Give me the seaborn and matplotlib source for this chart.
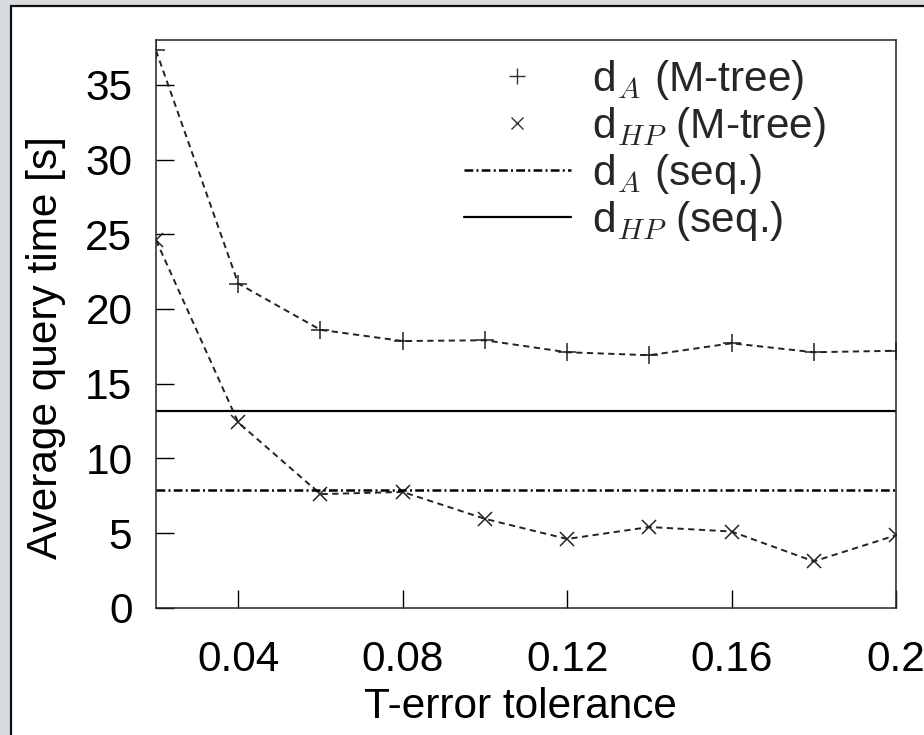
import numpy as np
import pandas as pd
import matplotlib
matplotlib.use("Agg")
import matplotlib.pyplot as plt
from matplotlib.lines import Line2D
from matplotlib.patches import Rectangle
import seaborn as sns

# ---- data ----
tolerance = [0.02, 0.04, 0.06, 0.08, 0.10, 0.12, 0.14, 0.16, 0.18, 0.20]
dA_mtree = [37.3, 21.7, 18.6, 17.85, 17.9, 17.1, 16.9, 17.7, 17.1, 17.2]
dHP_mtree = [24.6, 12.4, 7.6, 7.75, 5.95, 4.6, 5.4, 5.1, 3.1, 4.85]
dA_seq = 7.9
dHP_seq = 13.15

xticks = [0.04, 0.08, 0.12, 0.16, 0.20]
xtick_labels = ["0.04", "0.08", "0.12", "0.16", "0.2"]
yticks = [0, 5, 10, 15, 20, 25, 30, 35]
legend_labels = [r"d$_{A}$ (M-tree)", r"d$_{HP}$ (M-tree)", r"d$_{A}$ (seq.)", r"d$_{HP}$ (seq.)"]
xlabel = "T-error tolerance"
ylabel = "Average query time [s]"

sns.set_theme(style="white")
plt.rcParams["font.family"] = ["Liberation Sans", "DejaVu Sans"]
plt.rcParams["mathtext.fontset"] = "cm"

FS = 30.5
fig = plt.figure(figsize=(9.24, 7.35), dpi=100)
fig.patch.set_facecolor("#d9dcdf")
panel = Rectangle((11 / 924, -0.05), 1.1, 1.05 - 6 / 735, transform=fig.transFigure,
                  facecolor="white", edgecolor="#111111", linewidth=1.6, zorder=-5)
fig.patches.append(panel)

ax = fig.add_axes([156 / 924, 1 - 607.7 / 735, 740 / 924, (607.7 - 40) / 735])
ax.set_facecolor("white")
ax.set_zorder(1)

df = pd.DataFrame({"tol": tolerance, "dA": dA_mtree, "dHP": dHP_mtree})

line_col = "#222222"
sns.lineplot(data=df, x="tol", y="dA", ax=ax, color=line_col, linewidth=1.4,
             linestyle=(0, (3.2, 2.3)), marker="+", markersize=13,
             markeredgewidth=1.1, markeredgecolor=line_col, estimator=None)
sns.lineplot(data=df, x="tol", y="dHP", ax=ax, color=line_col, linewidth=1.4,
             linestyle=(0, (3.2, 2.3)), marker="x", markersize=10,
             markeredgewidth=1.1, markeredgecolor=line_col, estimator=None)

ax.axhline(dA_seq, color="black", linewidth=1.8, linestyle=(0, (3.5, 1.3, 0.8, 1.3)))
ax.axhline(dHP_seq, color="black", linewidth=1.6, linestyle="-")

ax.set_xlim(0.02, 0.2)
ax.set_ylim(0, 38)
ax.set_xticks(xticks)
ax.set_xticklabels(xtick_labels)
ax.set_yticks(yticks)
ax.tick_params(axis="both", which="both", direction="in", length=13, width=1.0,
               color="black", labelsize=FS, labelcolor="black",
               top=False, right=False, left=True, bottom=True)
ax.tick_params(axis="x", pad=23)
ax.tick_params(axis="y", pad=17)
for s in ax.spines.values():
    s.set_color("#222222")
    s.set_linewidth(1.1)
    s.set_visible(True)

ax.set_xlabel(xlabel, fontsize=FS, color="black", labelpad=4)
ax.set_ylabel(ylabel, fontsize=FS, color="black")
ax.yaxis.set_label_coords(-0.121, 0.4575)
ax.xaxis.set_label_coords(0.492, -0.14)
ax.xaxis.label.set_va("top")

handles = [
    Line2D([], [], linestyle="none", marker="+", markersize=11, markeredgewidth=1.0, color="#333333"),
    Line2D([], [], linestyle="none", marker="x", markersize=8, markeredgewidth=1.0, color="#333333"),
    Line2D([], [], color="black", linewidth=1.8, linestyle=(0, (3.5, 1.3, 0.8, 1.3))),
    Line2D([], [], color="black", linewidth=1.6, linestyle="-"),
]
leg = ax.legend(handles, legend_labels, loc="upper left",
                bbox_to_anchor=((464 - 156) / 740, (607.7 - 58) / 567.7),
                frameon=False, fontsize=FS, handlelength=2.52, handletextpad=0.5,
                labelspacing=0.07, borderpad=0, borderaxespad=0)

fig.savefig("out.png", dpi=100, facecolor=fig.get_facecolor())
